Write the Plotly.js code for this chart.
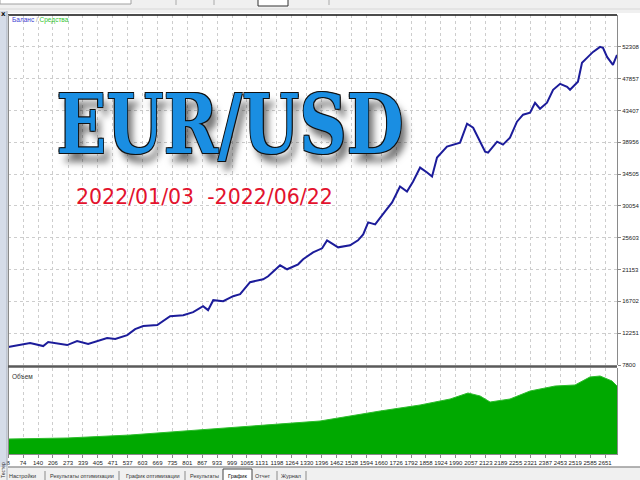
<!DOCTYPE html>
<html><head><meta charset="utf-8">
<script src="https://cdn.plot.ly/plotly-3.0.1.min.js"></script>
<style>html,body{margin:0;padding:0;background:#f0f0f0;overflow:hidden;} #chart{width:640px;height:480px;}</style>
</head><body><div id="chart"></div>
<script>
// ---- data ----
const tradeNo = [8,105,163,185,269,313,362,446,482,535,570,606,668,725,783,827,871,893,916,960,1004,1035,1079,1137,1159,1212,1243,1292,1314,1358,1398,1420,1469,1522,1557,1580,1602,1633,1677,1708,1743,1774,1801,1832,1863,1885,1907,1951,2009,2040,2067,2120,2133,2173,2199,2230,2261,2288,2319,2341,2363,2394,2421,2452,2483,2496,2531,2549,2571,2598,2629,2642,2660,2686,2704];
const balance = [10311,10869,10450,11009,10590,11148,10730,11567,11427,11985,12822,13241,13380,14636,14775,15194,16031,15473,16868,16728,17426,17705,19379,19797,20216,21750,21192,21890,22587,23564,24122,25238,24261,24540,25238,26075,27749,27470,29283,30539,32771,32073,33468,35421,34724,34166,36816,38351,38909,41559,41001,37653,37514,39048,38630,39606,41838,42815,43094,44489,43652,44489,46302,47139,46721,46302,47418,50069,50766,51603,52301,52161,50905,49789,51185];
const volTradeNo = [8,269,548,858,1124,1389,1655,1832,1965,2044,2098,2142,2230,2319,2430,2518,2584,2629,2682,2704];
const volume = [1.5,1.6,1.9,2.4,2.9,3.3,4.3,4.9,5.5,6.1,5.8,5.2,5.5,6.3,6.8,6.9,7.7,7.8,7.3,6.8];
const xTickVals = [8,74,140,206,273,339,405,471,537,603,669,735,801,867,933,999,1065,1131,1198,1264,1330,1396,1462,1528,1594,1660,1726,1792,1858,1924,1990,2057,2123,2189,2255,2321,2387,2453,2519,2585,2651];
const yTickVals = [7800,12251,16702,21153,25603,30054,34505,38956,43407,47857,52308];
const titleText = 'EUR/USD';
const periodText = '2022/01/03  -2022/06/22';
const legendBalance = 'Баланс';
const legendEquity = 'Средства';
const volumeLabel = 'Объем';
const tabLabels = ['Настройки','Результаты оптимизации','График оптимизации','Результаты','График','Отчет','Журнал'];

// ---- helpers (pixel -> paper) ----
const W = 640, H = 480;
const px = x => x / W;
const py = y => 1 - y / H;
const smallFam = 'Liberation Sans, Arial, sans-serif';
const tickFont = {family: smallFam, size: 6, color: '#222'};

const data = [
  {x: volTradeNo, y: volume, xaxis: 'x', yaxis: 'y2', type: 'scatter', mode: 'lines',
   fill: 'tozeroy', fillcolor: '#00a900', line: {color: '#2cbc2c', width: 1}, hoverinfo: 'skip'},
  {x: tradeNo, y: balance, xaxis: 'x', yaxis: 'y', type: 'scatter', mode: 'lines',
   line: {color: '#1c1c9a', width: 2}, hoverinfo: 'skip'}
];

const shapes = [
  {type:'rect', xref:'paper', yref:'paper', x0:px(8), x1:1, y0:py(467), y1:py(13), fillcolor:'#ffffff', line:{width:0}, layer:'below'},
  {type:'rect', xref:'paper', yref:'paper', x0:0, x1:px(7), y0:0, y1:py(11), fillcolor:'#d5dce8', line:{width:0}, layer:'below'},
  {type:'line', xref:'paper', yref:'paper', x0:px(7), x1:px(7), y0:0, y1:py(11), line:{color:'#a8b0bc', width:1}},
  {type:'rect', xref:'paper', yref:'paper', x0:0, x1:px(131), y0:py(4), y1:1.01, fillcolor:'#ffffff', line:{color:'#a0a0a0', width:1}, layer:'below'},
  {type:'rect', xref:'paper', yref:'paper', x0:px(258), x1:px(288), y0:py(6), y1:1.01, fillcolor:'#ffffff', line:{color:'#333', width:1}, layer:'below'},
  {type:'line', xref:'paper', yref:'paper', x0:px(176), x1:px(176), y0:py(5), y1:1, line:{color:'#aaa', width:1}},
  {type:'line', xref:'paper', yref:'paper', x0:px(214), x1:px(214), y0:py(5), y1:1, line:{color:'#aaa', width:1}},
  {type:'line', xref:'paper', yref:'paper', x0:px(329), x1:px(329), y0:py(5), y1:1, line:{color:'#aaa', width:1}},
  {type:'line', xref:'paper', yref:'paper', x0:0, x1:1, y0:py(9), y1:py(9), line:{color:'#d8d8d8', width:1}},
  // chart frame
  {type:'line', xref:'paper', yref:'paper', x0:px(8), x1:px(617), y0:py(15), y1:py(15), line:{color:'#111', width:1.6}},
  {type:'line', xref:'paper', yref:'paper', x0:px(8.5), x1:px(8.5), y0:py(454), y1:py(15), line:{color:'#8a8a8a', width:1}},
  {type:'line', xref:'paper', yref:'paper', x0:px(8), x1:px(617), y0:py(366.5), y1:py(366.5), line:{color:'#5a5a5a', width:2.5}},
  // bottom tab bar
  {type:'rect', xref:'paper', yref:'paper', x0:0, x1:1, y0:0, y1:py(467), fillcolor:'#f0f0f0', line:{width:0}, layer:'below'},
  {type:'line', xref:'paper', yref:'paper', x0:px(8), x1:1, y0:py(467), y1:py(467), line:{color:'#9a9a9a', width:1.5}},
  {type:'rect', xref:'paper', yref:'paper', x0:px(223), x1:px(252), y0:-0.01, y1:py(469), fillcolor:'#ffffff', line:{color:'#444', width:1}}
];
[45, 119, 185, 277, 306].forEach(x => shapes.push({type:'line', xref:'paper', yref:'paper', x0:px(x), x1:px(x), y0:0, y1:py(471), line:{color:'#8a8a8a', width:1}}));

const tabX = [22, 82, 153, 204, 237, 263, 291];
const annotations = [
  {xref:'paper', yref:'paper', x:px(230), y:py(124), xanchor:'center', yanchor:'middle', showarrow:false,
   text: titleText,
   font:{family:'DejaVu Serif, serif', size:82, weight:700, color:'#1a8ee2',
         shadow:'-1px -1px 0 #111, 1px -1px 0 #111, -1px 1px 0 #111, 1px 1px 0 #111, 6px 8px 7px rgba(0,0,0,0.55)'}},
  {xref:'paper', yref:'paper', x:px(204), y:py(197), xanchor:'center', yanchor:'middle', showarrow:false,
   text: periodText, font:{family:'DejaVu Sans, sans-serif', size:20.5, color:'#e3122d'}},
  {xref:'paper', yref:'paper', x:px(10), y:py(20), xanchor:'left', yanchor:'middle', showarrow:false,
   text:'<span style="color:#3b3bd0">' + legendBalance + '</span><span style="color:#999"> / </span><span style="color:#2fc42f">' + legendEquity + '</span>',
   font:{family:smallFam, size:6.5}},
  {xref:'paper', yref:'paper', x:px(10), y:py(376), xanchor:'left', yanchor:'middle', showarrow:false,
   text: volumeLabel, font:{family:smallFam, size:6.5, color:'#333'}},
  {xref:'paper', yref:'paper', x:px(3), y:py(14), xanchor:'center', yanchor:'middle', showarrow:false,
   text:'x', font:{family:'DejaVu Sans, sans-serif', size:7, weight:700, color:'#111'}},
  {xref:'paper', yref:'paper', x:px(3), y:py(470), xanchor:'center', yanchor:'middle', showarrow:false, textangle:-90,
   text:'Тестер', font:{family:smallFam, size:5, color:'#333'}}
];
tabLabels.forEach((t, i) => annotations.push({xref:'paper', yref:'paper', x:px(tabX[i]), y:py(476), xanchor:'center', yanchor:'middle', showarrow:false,
  text: t, font:{family:smallFam, size:5.5, color: i === 4 ? '#000' : '#333'}}));

const layout = {
  width: W, height: H,
  margin: {l:0, r:0, t:0, b:0},
  paper_bgcolor: '#f0f0f0',
  plot_bgcolor: 'rgba(0,0,0,0)',
  showlegend: false,
  xaxis: {domain:[px(8), px(617)], range:[7, 2704], anchor:'y2',
          tickmode:'array', tickvals:xTickVals, ticktext:xTickVals.map(String), tickangle:0,
          tickfont:tickFont, ticks:'outside', ticklen:3, tickcolor:'#888',
          showgrid:true, gridcolor:'#cdcdcd', griddash:'3px,3px', gridwidth:1,
          showline:true, linecolor:'#8a8a8a', zeroline:false, automargin:false, fixedrange:true},
  yaxis: {domain:[py(365), py(15)], range:[7800, 56765], anchor:'x', side:'right',
          tickmode:'array', tickvals:yTickVals, ticktext:yTickVals.map(String),
          tickfont:tickFont, ticks:'outside', ticklen:3, tickcolor:'#888',
          showgrid:true, gridcolor:'#cdcdcd', griddash:'3px,3px', gridwidth:1,
          showline:true, linecolor:'#8a8a8a', zeroline:false, automargin:false, fixedrange:true},
  yaxis2: {domain:[py(454), py(368)], range:[0, 8.6], anchor:'x', side:'right',
          showticklabels:false, ticks:'', showgrid:false,
          showline:true, linecolor:'#8a8a8a', zeroline:false, automargin:false, fixedrange:true},
  shapes: shapes,
  annotations: annotations
};

Plotly.newPlot('chart', data, layout, {staticPlot:true, displayModeBar:false}).then(gd => {
  gd.querySelectorAll('.annotation-text').forEach(t => {
    if (t.textContent === titleText) {
      t.style.transformBox = 'fill-box';
      t.style.transformOrigin = 'center';
      t.style.transform = 'scaleX(0.8)';
    }
  });
});
</script>
</body></html>
